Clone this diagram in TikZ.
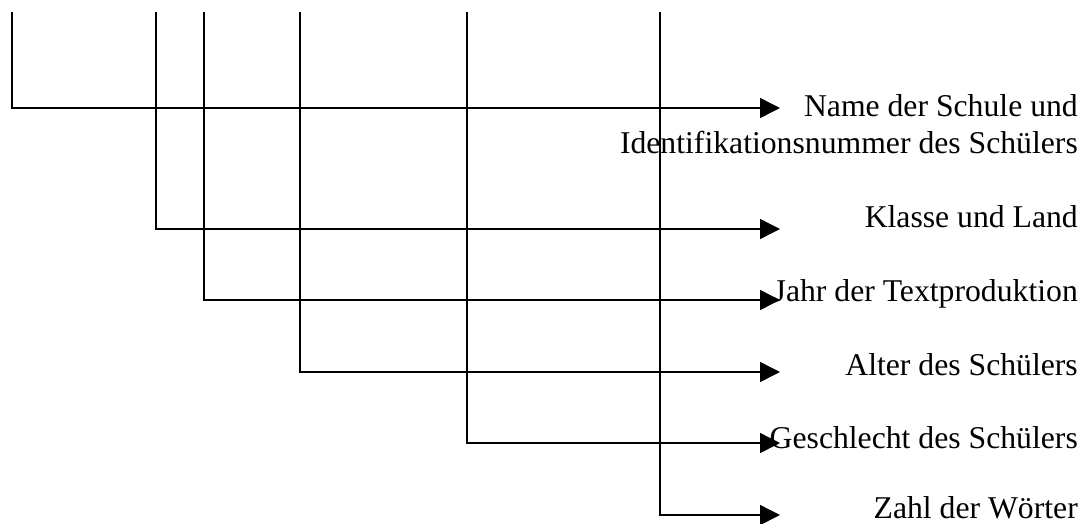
\documentclass[tikz,border=0pt]{standalone}
\usepackage{fontspec}
\setmainfont{Liberation Serif}
\usetikzlibrary{arrows.meta}
\begin{document}
\begin{tikzpicture}[x=1pt,y=-1pt,
  conn/.style={line width=1.4pt,-{Triangle[length=20pt,width=20pt]}},
  lbl/.style={anchor=base east,inner sep=0pt,align=right,font=\fontsize{31.7}{36.8}\selectfont}]
\useasboundingbox (0,0) rectangle (1086,523);
% tops of vertical lines
\coordinate (t1) at (12,12);
\coordinate (t2) at (156,12);
\coordinate (t3) at (204,12);
\coordinate (t4) at (300,12);
\coordinate (t5) at (467,12);
\coordinate (t6) at (660,12);
% arrow tips
\coordinate (e1) at (780,108);
\coordinate (e2) at (780,229);
\coordinate (e3) at (780,300);
\coordinate (e4) at (780,372);
\coordinate (e5) at (780,443);
\coordinate (e6) at (780,515);
% connectors
\draw[conn] (t1) |- (e1);
\draw[conn] (t2) |- (e2);
\draw[conn] (t3) |- (e3);
\draw[conn] (t4) |- (e4);
\draw[conn] (t5) |- (e5);
\draw[conn] (t6) |- (e6);
% labels
\node[lbl] (l1) at (1078,153) {Name der Schule und\\Identifikationsnummer des Schülers};
\node[lbl] (l2) at (1078,227) {Klasse und Land};
\node[lbl] (l3) at (1078,301) {Jahr der Textproduktion};
\node[lbl] (l4) at (1078,375) {Alter des Schülers};
\node[lbl] (l5) at (1078,448) {Geschlecht des Schülers};
\node[lbl] (l6) at (1078,518) {Zahl der Wörter};
\end{tikzpicture}
\end{document}
